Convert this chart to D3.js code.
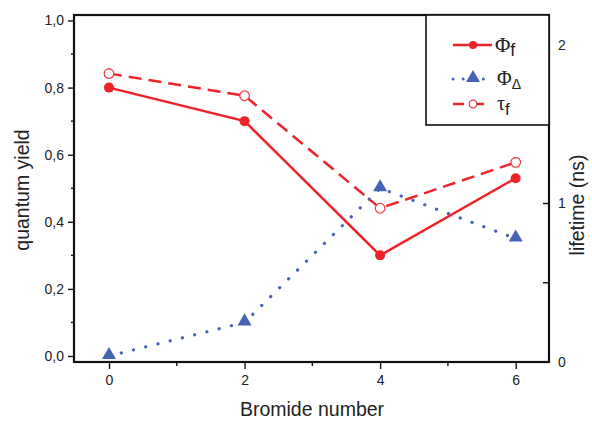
<!DOCTYPE html>
<html>
<head>
<meta charset="utf-8">
<script src="https://cdn.jsdelivr.net/npm/d3@7"></script>
<style>
  body { margin: 0; background: #fff; }
  svg text { font-family: "Liberation Sans", Arial, sans-serif; fill: #222; }
  .legend text { font-family: "Liberation Serif", "Times New Roman", serif; }
</style>
</head>
<body>
<div id="chart"></div>
<script>
// data
const bromide = [0, 2, 4, 6];
const phiF = [0.80, 0.70, 0.30, 0.53];      // quantum yield, left axis
const phiDelta = [0.00, 0.10, 0.50, 0.35];  // quantum yield, left axis
const tauF = [1.82, 1.68, 0.97, 1.26];      // lifetime (ns), right axis

const xTicks = [0, 2, 4, 6];
const yTicks = [0, 0.2, 0.4, 0.6, 0.8, 1.0];
const y2Ticks = [0, 1, 2];

const W = 592, H = 421;
const frame = { left: 74, right: 549, top: 15, bottom: 362 };
const red = "#ee2229", blue = "#4563b4";

const svg = d3.select("#chart").append("svg")
  .attr("width", W).attr("height", H);

const x = d3.scaleLinear().domain([0, 6]).range([109, 515.7]);
const y = d3.scaleLinear().domain([0, 1]).range([356, 20.5]);
const y2 = d3.scaleLinear().domain([0, 2]).range([362, 45]);

// frame
svg.append("rect")
  .attr("x", frame.left).attr("y", frame.top)
  .attr("width", frame.right - frame.left)
  .attr("height", frame.bottom - frame.top)
  .attr("fill", "none").attr("stroke", "#111").attr("stroke-width", 2.2);

// left axis
const yAxis = svg.append("g")
  .attr("transform", `translate(${frame.left},0)`)
  .call(d3.axisLeft(y).tickValues(yTicks).tickSize(6).tickPadding(4)
    .tickFormat(d => d3.format(".1f")(d).replace(".", ",")));
yAxis.select(".domain").remove();
yAxis.selectAll("line").attr("stroke", "#111").attr("stroke-width", 1.4);
yAxis.selectAll("text").style("font-size", "14px");
svg.append("g").selectAll("line")
  .data([0.1, 0.3, 0.5, 0.7, 0.9]).enter().append("line")
  .attr("x1", frame.left - 3).attr("x2", frame.left)
  .attr("y1", d => y(d)).attr("y2", d => y(d))
  .attr("stroke", "#111").attr("stroke-width", 1.4);

// right axis (ticks inside)
const y2Axis = svg.append("g")
  .attr("transform", `translate(${frame.right},0)`)
  .call(d3.axisRight(y2).tickValues(y2Ticks).tickSize(0).tickPadding(9)
    .tickFormat(d3.format("d")));
y2Axis.select(".domain").remove();
y2Axis.selectAll("text").style("font-size", "14px");
svg.append("g").selectAll("line")
  .data([0.5, 1, 1.5, 2]).enter().append("line")
  .attr("x1", frame.right - 6).attr("x2", frame.right)
  .attr("y1", d => y2(d)).attr("y2", d => y2(d))
  .attr("stroke", "#111").attr("stroke-width", 1.4);

// bottom axis
const xAxis = svg.append("g")
  .attr("transform", `translate(0,${frame.bottom})`)
  .call(d3.axisBottom(x).tickValues(xTicks).tickSize(7).tickPadding(6)
    .tickFormat(d3.format("d")));
xAxis.select(".domain").remove();
xAxis.selectAll("line").attr("stroke", "#111").attr("stroke-width", 1.4);
xAxis.selectAll("text").style("font-size", "14px");
svg.append("g").selectAll("line")
  .data([1, 3, 5]).enter().append("line")
  .attr("x1", d => x(d)).attr("x2", d => x(d))
  .attr("y1", frame.bottom).attr("y2", frame.bottom + 4)
  .attr("stroke", "#111").attr("stroke-width", 1.4);

// axis titles
svg.append("text")
  .attr("transform", `translate(29,190) rotate(-90)`)
  .attr("text-anchor", "middle").style("font-size", "19.5px")
  .text("quantum yield");
svg.append("text")
  .attr("transform", `translate(584,205) rotate(-90)`)
  .attr("text-anchor", "middle").style("font-size", "19.5px")
  .text("lifetime (ns)");
svg.append("text")
  .attr("x", 312).attr("y", 416)
  .attr("text-anchor", "middle").style("font-size", "19.5px")
  .text("Bromide number");

// series
const pts = (vals, sy) => bromide.map((b, i) => [x(b), sy(vals[i])]);
const line = d3.line();

svg.append("path").attr("d", line(pts(phiDelta, y)))
  .attr("fill", "none").attr("stroke", blue).attr("stroke-width", 3.2)
  .attr("stroke-linecap", "round").attr("stroke-dasharray", "0.1 12.5");
svg.append("path").attr("d", line(pts(tauF, y2)))
  .attr("fill", "none").attr("stroke", red).attr("stroke-width", 2.5)
  .attr("stroke-dasharray", "13 7");
svg.append("path").attr("d", line(pts(phiF, y)))
  .attr("fill", "none").attr("stroke", red).attr("stroke-width", 2.5);

const tri = d3.symbol().type(d3.symbolTriangle).size(85);
svg.append("g").selectAll("path")
  .data(pts(phiDelta, y)).enter().append("path")
  .attr("d", tri).attr("transform", d => `translate(${d[0]},${d[1] - 1})`)
  .attr("fill", blue);
svg.append("g").selectAll("circle")
  .data(pts(tauF, y2)).enter().append("circle")
  .attr("cx", d => d[0]).attr("cy", d => d[1]).attr("r", 4.8)
  .attr("fill", "#fff").attr("stroke", "#f0404c").attr("stroke-width", 1.3);
svg.append("g").selectAll("circle")
  .data(pts(phiF, y)).enter().append("circle")
  .attr("cx", d => d[0]).attr("cy", d => d[1]).attr("r", 5)
  .attr("fill", red);

// legend
const lg = svg.append("g").attr("class", "legend");
lg.append("rect")
  .attr("x", 426).attr("y", frame.top)
  .attr("width", frame.right - 426).attr("height", 125 - frame.top)
  .attr("fill", "#fff").attr("stroke", "#111").attr("stroke-width", 1.6);

const lx0 = 453, lx1 = 492, lm = 473;
// Φf
lg.append("line").attr("x1", lx0).attr("x2", lx1).attr("y1", 45).attr("y2", 45)
  .attr("stroke", red).attr("stroke-width", 2.5);
lg.append("circle").attr("cx", lm).attr("cy", 45).attr("r", 4).attr("fill", red);
const t1 = lg.append("text").attr("x", 495).attr("y", 52).style("font-size", "21px");
t1.append("tspan").text("Φ");
t1.append("tspan").attr("dy", 4).style("font-size", "18px")
  .style("font-family", "Liberation Sans, Arial, sans-serif").text("f");
// ΦΔ
lg.append("line").attr("x1", lx0).attr("x2", lx1).attr("y1", 79).attr("y2", 79)
  .attr("stroke", blue).attr("stroke-width", 3).attr("stroke-linecap", "round")
  .attr("stroke-dasharray", "0.1 10");
lg.append("path").attr("d", tri).attr("transform", `translate(${lm},78)`).attr("fill", blue);
const t2 = lg.append("text").attr("x", 497).attr("y", 85).style("font-size", "20px");
t2.append("tspan").text("Φ");
t2.append("tspan").attr("dy", 4).style("font-size", "14px")
  .style("font-family", "Liberation Sans, Arial, sans-serif").text("Δ");
// τf
lg.append("line").attr("x1", lx0).attr("x2", lx1).attr("y1", 104).attr("y2", 104)
  .attr("stroke", red).attr("stroke-width", 2.5).attr("stroke-dasharray", "11 9");
lg.append("circle").attr("cx", lm).attr("cy", 104).attr("r", 3.8)
  .attr("fill", "#fff").attr("stroke", "#f0404c").attr("stroke-width", 1.3);
const t3 = lg.append("text").attr("x", 497).attr("y", 110).style("font-size", "20px");
t3.append("tspan").text("τ");
t3.append("tspan").attr("dy", 5).style("font-size", "17px")
  .style("font-family", "Liberation Sans, Arial, sans-serif").text("f");
</script>
</body>
</html>
